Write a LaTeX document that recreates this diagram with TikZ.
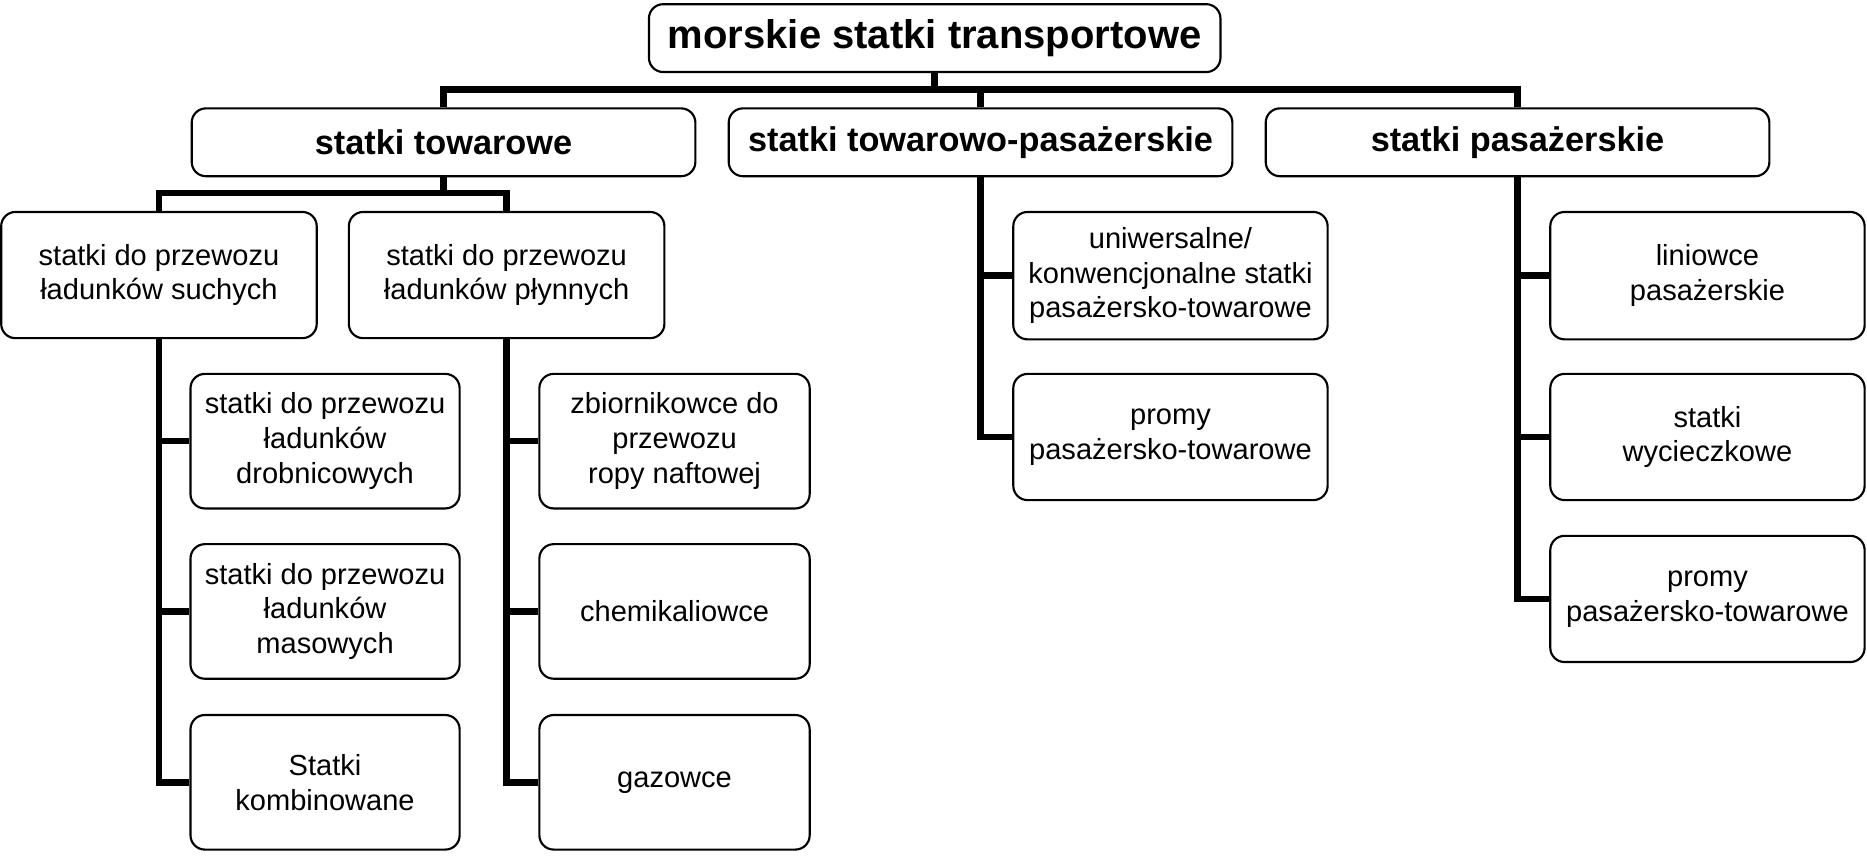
\documentclass[tikz,border=0pt]{standalone}
\usepackage{fontspec}
\setmainfont{Liberation Sans}

\begin{document}
\begin{tikzpicture}[x=0.5pt, y=-0.5pt,
    box/.style={draw, line width=0.9pt, rounded corners=6pt, align=center,
        inner sep=2pt, font=\fontsize{12.2}{14.6}\selectfont},
    catbox/.style={box, minimum width=211.5pt, minimum height=28.5pt,
        font=\fontsize{14.4}{17}\selectfont\bfseries},
    link/.style={line width=2.7pt, line join=miter}]
    \useasboundingbox (0,0) rectangle (1568,720);

    % the root and the three kinds of ships
    \node[box, minimum width=240pt, minimum height=28.5pt,
        font=\fontsize{16.8}{20}\selectfont\bfseries] (root) at (785,32) {morskie statki transportowe};
    \node[catbox] (tow) at (372.5,119.5) {statki towarowe};
    \node[catbox] (towpas) at (823.5,119.5) {statki towarowo-pasażerskie};
    \node[catbox] (pas) at (1274.5,119.5) {statki pasażerskie};

    % cargo ships: dry and liquid loads
    \node[box, minimum width=132.5pt, minimum height=53pt] (such) at (133.5,231) {statki do przewozu\\ładunków suchych};
    \node[box, minimum width=132.5pt, minimum height=53pt] (plyn) at (425.5,231) {statki do przewozu\\ładunków płynnych};

    \node[box, minimum width=113pt, minimum height=56.5pt] (drob) at (273,370.5) {statki do przewozu\\ładunków\\drobnicowych};
    \node[box, minimum width=113pt, minimum height=56.5pt] (mas) at (273,513.5) {statki do przewozu\\ładunków\\masowych};
    \node[box, minimum width=113pt, minimum height=56.5pt] (komb) at (273,657) {Statki\\kombinowane};

    \node[box, minimum width=113.5pt, minimum height=56.5pt] (zbior) at (566.5,370.5) {zbiornikowce do\\przewozu\\ropy naftowej};
    \node[box, minimum width=113.5pt, minimum height=56.5pt] (chem) at (566.5,513.5) {chemikaliowce};
    \node[box, minimum width=113.5pt, minimum height=56.5pt] (gaz) at (566.5,657) {gazowce};

    % cargo-passenger ships
    \node[box, minimum width=132pt, minimum height=53.5pt] (uniw) at (983,231.5) {uniwersalne/\\konwencjonalne statki\\pasażersko-towarowe};
    \node[box, minimum width=132pt, minimum height=53pt] (prom1) at (983,367) {promy\\pasażersko-towarowe};

    % passenger ships
    \node[box, minimum width=132pt, minimum height=53.5pt] (lin) at (1434,231.5) {liniowce\\pasażerskie};
    \node[box, minimum width=132pt, minimum height=53pt] (wyc) at (1434,367) {statki\\wycieczkowe};
    \node[box, minimum width=132pt, minimum height=53pt] (prom2) at (1434,503) {promy\\pasażersko-towarowe};

    % the branching points of the bars
    \coordinate (rootbar) at (785,75);
    \coordinate (towbar) at (372.5,162);

    % draw the connectors
    \draw[link] (root.south) -- (rootbar);
    \draw[link] (tow.north) |- (rootbar) -| (pas.north);
    \draw[link] (towpas.north) -- (towpas.north |- rootbar);

    \draw[link] (tow.south) -- (towbar);
    \draw[link] (such.north) |- (towbar) -| (plyn.north);

    \draw[link] (such.south) |- (drob.west);
    \draw[link] (such.south) |- (mas.west);
    \draw[link] (such.south) |- (komb.west);
    \draw[link] (plyn.south) |- (zbior.west);
    \draw[link] (plyn.south) |- (chem.west);
    \draw[link] (plyn.south) |- (gaz.west);

    \draw[link] (towpas.south) |- (uniw.west);
    \draw[link] (towpas.south) |- (prom1.west);

    \draw[link] (pas.south) |- (lin.west);
    \draw[link] (pas.south) |- (wyc.west);
    \draw[link] (pas.south) |- (prom2.west);

\end{tikzpicture}
\end{document}
